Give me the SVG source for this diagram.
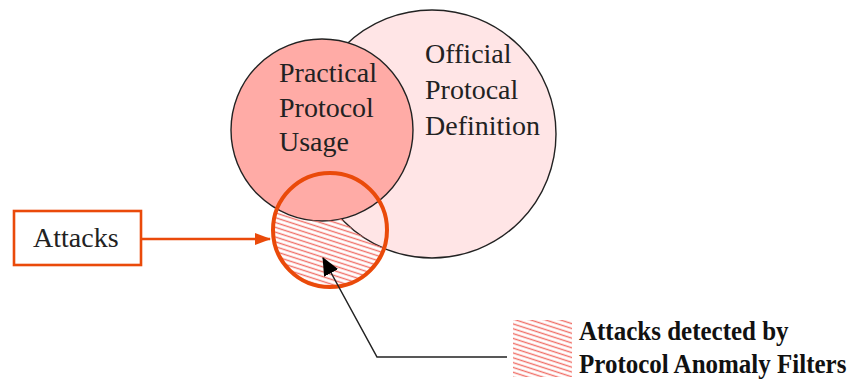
<svg xmlns="http://www.w3.org/2000/svg" width="856" height="379" viewBox="0 0 856 379">
<style>
.lbl{font-family:"Liberation Serif","Times New Roman",serif;font-size:28px;fill:#222}
.leg{font-family:"Liberation Serif","Times New Roman",serif;font-size:25px;font-weight:bold;fill:#111}
.set{stroke:#222;stroke-width:1.4}
.orange{stroke:#EA4A0A;fill:none}
</style>
<defs>
<pattern id="hatch" patternUnits="userSpaceOnUse" width="10" height="4.6" patternTransform="rotate(18)">
<line x1="0" y1="2.3" x2="10" y2="2.3" stroke="#F07068" stroke-width="1.4"/>
</pattern>
<mask id="attackMask" maskUnits="userSpaceOnUse" x="0" y="0" width="856" height="379">
<rect x="0" y="0" width="856" height="379" fill="black"/>
<circle cx="330" cy="230" r="57" fill="white"/>
<circle cx="432" cy="134" r="124" fill="black"/>
<circle cx="322" cy="130" r="91" fill="black"/>
</mask>
<marker id="arrOrange" markerWidth="16" markerHeight="12" refX="15" refY="6" orient="auto" markerUnits="userSpaceOnUse">
<path d="M0,0 L16,6 L0,12 Z" fill="#EA4A0A"/>
</marker>
<marker id="arrBlack" markerWidth="18" markerHeight="16" refX="17" refY="8" orient="auto" markerUnits="userSpaceOnUse">
<path d="M0,0 L18,8 L0,16 Z" fill="#000"/>
</marker>
</defs>

<g id="official">
<circle class="set" cx="432" cy="134" r="124" fill="#FFE5E6"/>
<text class="lbl" x="425" y="63">Official</text>
<text class="lbl" x="425" y="99">Protocal</text>
<text class="lbl" x="425" y="135">Definition</text>
</g>

<g id="practical">
<circle class="set" cx="322" cy="130" r="91" fill="#FFABA6"/>
<text class="lbl" x="279" y="82">Practical</text>
<text class="lbl" x="279" y="117">Protocol</text>
<text class="lbl" x="279" y="151">Usage</text>
</g>

<g id="attackRegion">
<rect x="260" y="160" width="140" height="140" fill="url(#hatch)" mask="url(#attackMask)"/>
<circle class="orange" cx="330" cy="230" r="57" stroke-width="4"/>
</g>

<g id="attacksBox">
<rect class="orange" x="14" y="211" width="127" height="54" stroke-width="2.6"/>
<text class="lbl" x="33" y="247">Attacks</text>
</g>

<g id="legend">
<rect x="513" y="320" width="59" height="57" fill="url(#hatch)"/>
<text class="leg" transform="translate(579,340) scale(1,1.12)">Attacks detected by</text>
<text class="leg" transform="translate(579,373) scale(1,1.12)">Protocol Anomaly Filters</text>
</g>

<g id="connectors">
<line x1="141" y1="239" x2="270" y2="239" stroke="#EA4A0A" stroke-width="2.6" marker-end="url(#arrOrange)"/>
<polyline points="507,357 377,357 323,258" fill="none" stroke="#222" stroke-width="1.5" marker-end="url(#arrBlack)"/>
</g>
</svg>
